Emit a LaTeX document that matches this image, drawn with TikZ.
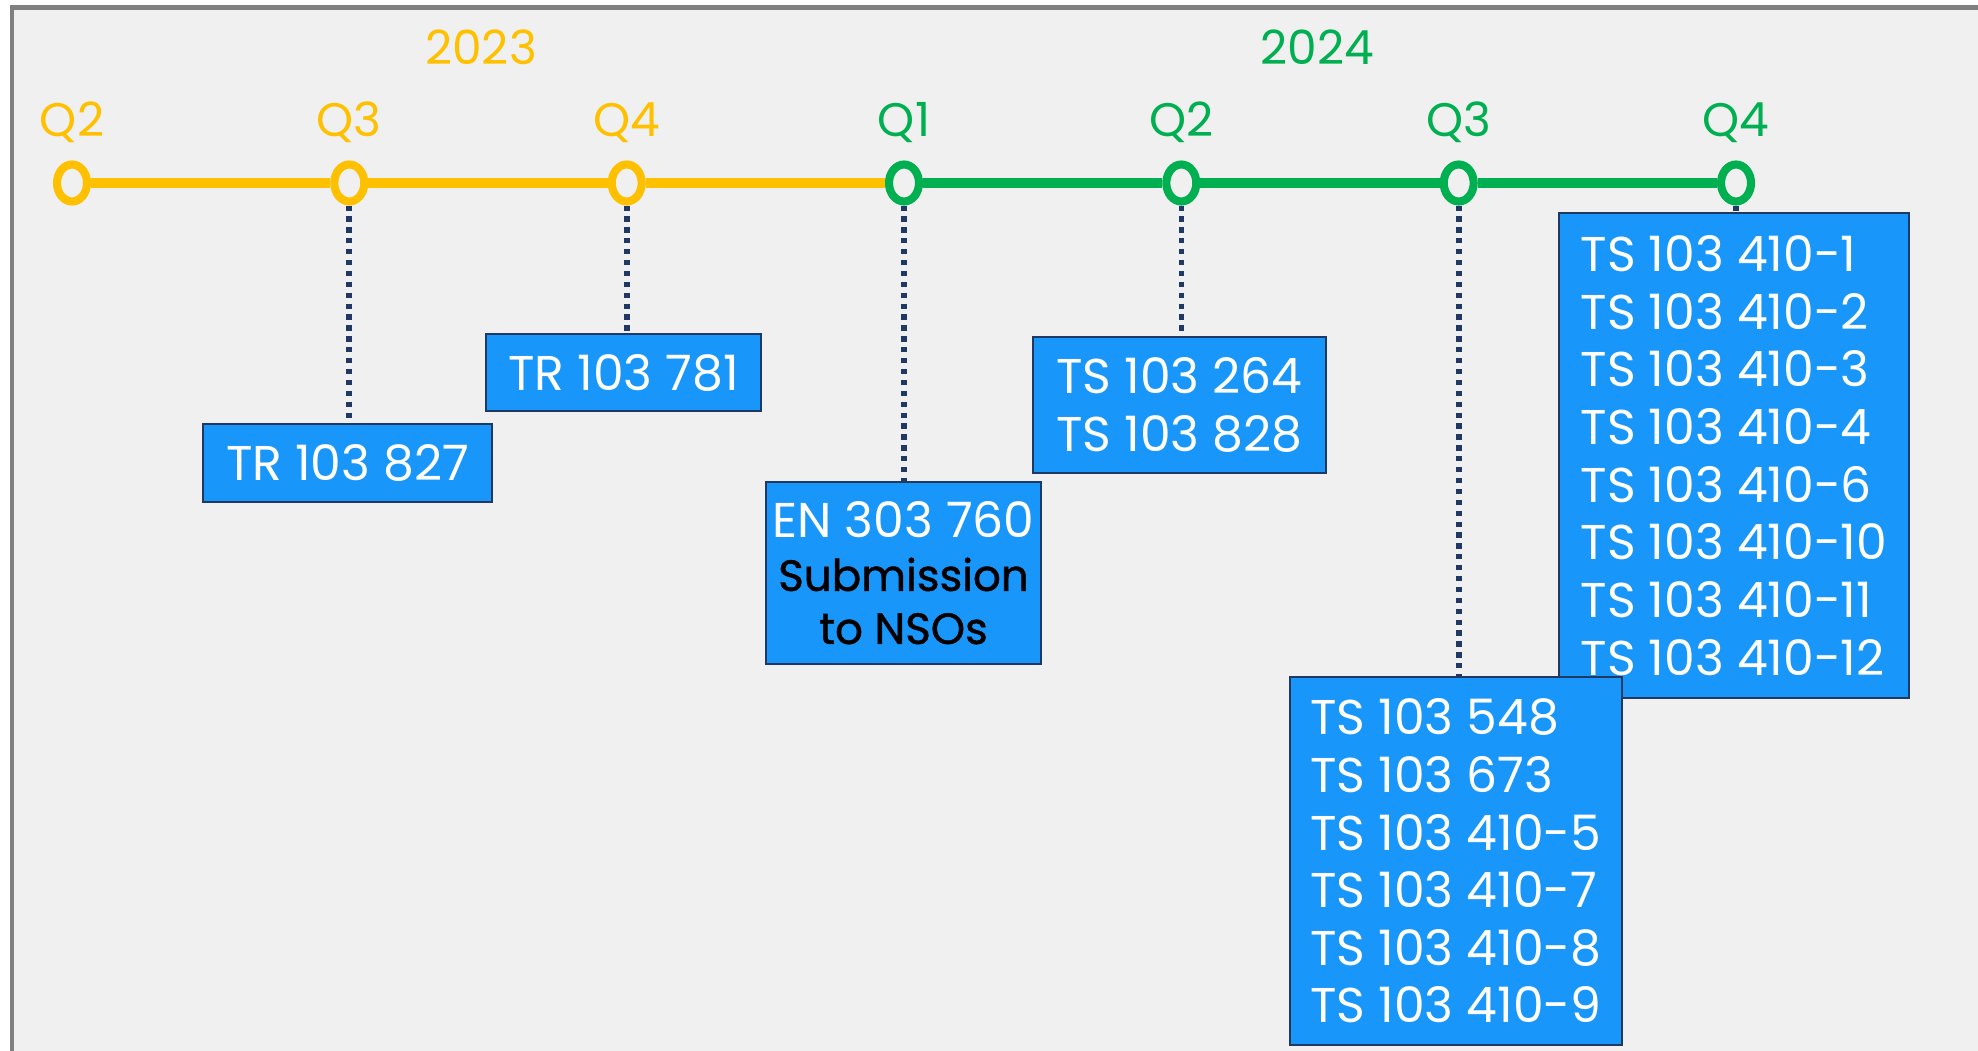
\documentclass[tikz,border=0pt]{standalone}
\usepackage{fontspec}
\setmainfont{Poppins}
\newfontfamily\medfont[FakeBold=1.2]{Poppins}
\usetikzlibrary{shapes.geometric}
\definecolor{gold}{HTML}{FFC000}
\definecolor{leaf}{HTML}{00B050}
\definecolor{boxblue}{HTML}{1896FA}
\definecolor{navy}{HTML}{1F3864}
\definecolor{paper}{HTML}{F0F0F0}
\definecolor{rim}{HTML}{808080}

\begin{document}
\begin{tikzpicture}[
    qdot/.style={ellipse,draw=#1,line width=2.3pt,fill=paper,minimum width=.3cm,minimum height=.37cm,inner sep=0pt},
    qlab/.style={text=#1,anchor=base,inner sep=0pt,font=\fontsize{13.4}{15}\selectfont},
    doc/.style={draw=navy,line width=.6pt,fill=boxblue,text=white,align=left,inner sep=0pt,font=\fontsize{13.9}{16.4}\selectfont},
    link/.style={navy,line width=1.6pt,dash pattern=on 1.5pt off 1.6pt}]
		\clip (0,0) rectangle (19.78,10.5);
		\fill[white] (0,0) rectangle (19.78,10.5);
		\filldraw[fill=paper,draw=rim,line width=1.42pt] (.12,-1) rectangle (21,10.425);

		\node[qlab=gold] (y23) at (4.81,9.85) {2023};
		\node[qlab=leaf] (y24) at (13.17,9.85) {2024};

		\node[qdot=gold] (q2a) at (0.72,8.67) {};
		\node[qdot=gold] (q3a) at (3.493,8.67) {};
		\node[qdot=gold] (q4a) at (6.267,8.67) {};
		\node[qdot=leaf] (q1b) at (9.04,8.67) {};
		\node[qdot=leaf] (q2b) at (11.813,8.67) {};
		\node[qdot=leaf] (q3b) at (14.587,8.67) {};
		\node[qdot=leaf] (q4b) at (17.36,8.67) {};
		\draw[gold,line width=2.9pt] (q2a) -- (q3a) -- (q4a) -- (q1b);
		\draw[leaf,line width=2.9pt] (q1b) -- (q2b) -- (q3b) -- (q4b);

		\node[qlab=gold] at (0.72,9.13) {Q2};
		\node[qlab=gold] at (3.493,9.13) {Q3};
		\node[qlab=gold] at (6.267,9.13) {Q4};
		\node[qlab=leaf] at (9.04,9.13) {Q1};
		\node[qlab=leaf] at (11.813,9.13) {Q2};
		\node[qlab=leaf] at (14.587,9.13) {Q3};
		\node[qlab=leaf] at (17.36,9.13) {Q4};

		\node[doc,minimum width=2.89cm,minimum height=.78cm] (tr827) at (3.475,5.87) {TR 103 827};
		\node[doc,minimum width=2.75cm,minimum height=.77cm] (tr781) at (6.235,6.775) {TR 103 781};
		\node[doc,align=center,minimum width=2.75cm,minimum height=1.82cm,font=\fontsize{13.9}{15.1}\selectfont] (en760) at (9.035,4.77)
		  {EN 303 760\\{\medfont\fontsize{12.4}{15.1}\selectfont\color{black}Submission}\\{\medfont\fontsize{12.4}{15.1}\selectfont\color{black}to NSOs}};
		\node[doc,minimum width=2.93cm,minimum height=1.36cm] (ts264) at (11.795,6.45) {TS 103 264\\TS 103 828};
		\node[doc,minimum width=3.5cm,minimum height=4.85cm] (ts410) at (17.34,5.945)
		  {TS 103 410-1\\TS 103 410-2\\TS 103 410-3\\TS 103 410-4\\TS 103 410-6\\TS 103 410-10\\TS 103 410-11\\TS 103 410-12};
		\node[doc,minimum width=3.32cm,minimum height=3.68cm] (ts548) at (14.56,1.89)
		  {TS 103 548\\TS 103 673\\TS 103 410-5\\TS 103 410-7\\TS 103 410-8\\TS 103 410-9};

		\draw[link] (q3a.south) -- (q3a.south |- tr827.north);
		\draw[link] (q4a.south) -- (q4a.south |- tr781.north);
		\draw[link] (q1b.south) -- (q1b.south |- en760.north);
		\draw[link] (q2b.south) -- (q2b.south |- ts264.north);
		\draw[link] (q3b.south) -- (q3b.south |- ts548.north);
		\draw[link] (q4b.south) -- (q4b.south |- ts410.north);
\end{tikzpicture}
\end{document}
